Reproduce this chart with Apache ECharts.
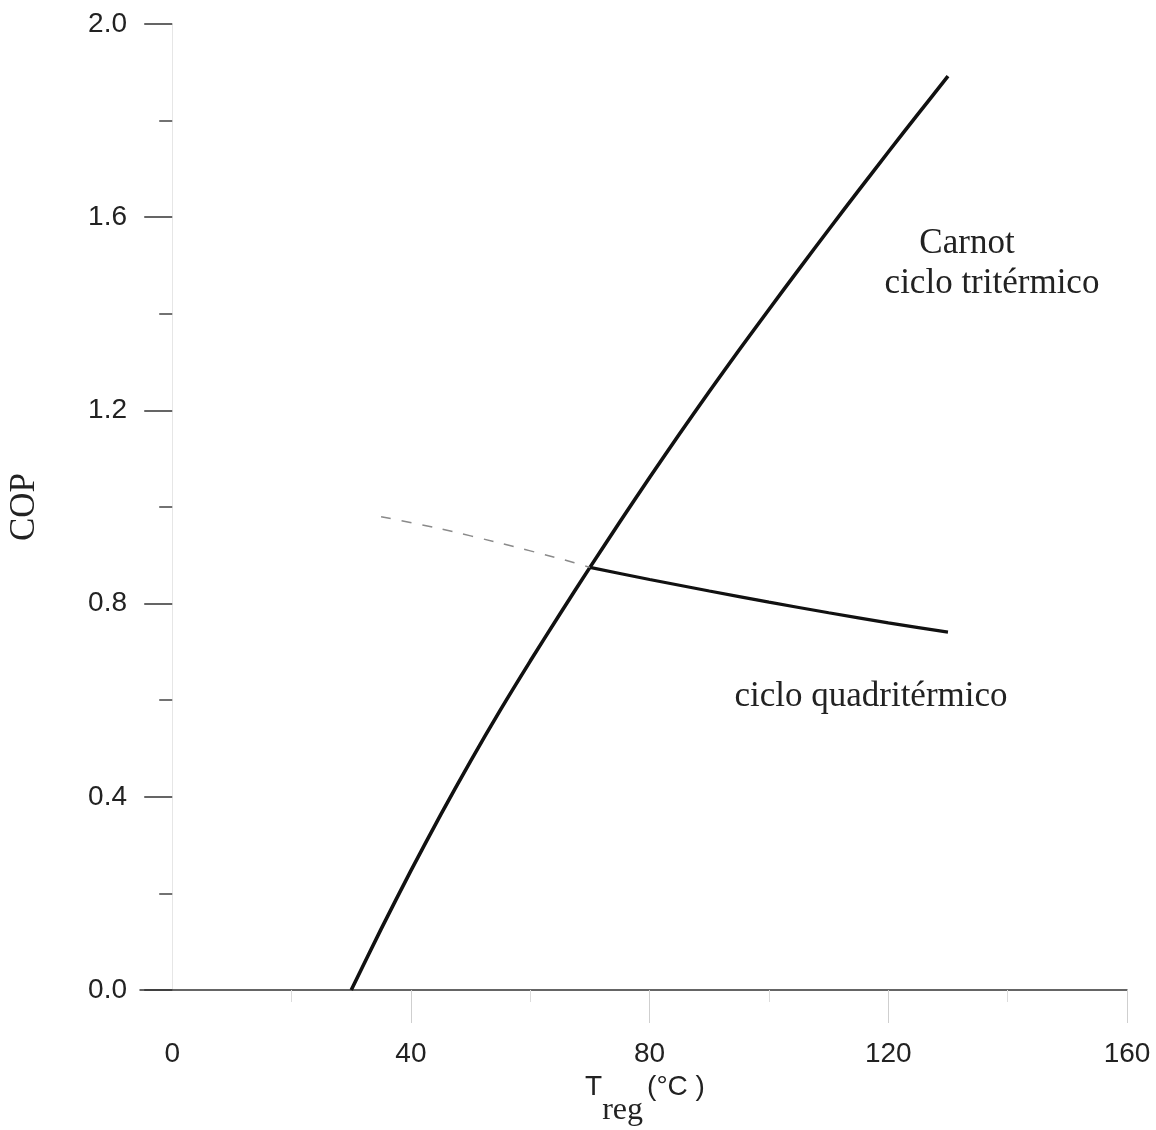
<!DOCTYPE html>
<html>
<head>
<meta charset="utf-8">
<script src="https://cdn.jsdelivr.net/npm/echarts@6/dist/echarts.min.js"></script>
<style>
  html, body { margin: 0; padding: 0; background: #fff; }
  #chart { width: 1156px; height: 1130px; }
</style>
</head>
<body>
<div id="chart"></div>
<script>
// Carnot, ciclo tritérmico
const carnotT = [30, 35, 40, 45, 50, 55, 60, 65, 70, 75, 80, 85, 90, 95, 100, 105, 110, 115, 120, 125, 130]
const carnotCop = [0, 0.126, 0.247, 0.363, 0.474, 0.58, 0.681, 0.779, 0.875, 0.969, 1.061, 1.151, 1.239, 1.325, 1.409, 1.492, 1.574, 1.655, 1.735, 1.814, 1.892]

// ciclo quadritérmico
const quadT = [70, 80, 90, 100, 110, 120, 130]
const quadCop = [0.875, 0.85, 0.826, 0.803, 0.781, 0.76, 0.741]

// dashed continuation below 70 °C
const dashT = [35, 45, 55, 65, 70]
const dashCop = [0.98, 0.955, 0.925, 0.893, 0.875]

const xMajorTicks = [0, 40, 80, 120, 160]
const xTickMarks = [40, 80, 120, 160]
const xMinorTicks = [20, 60, 100, 140]

const sansFont = "'Liberation Sans', Arial, sans-serif"
const serifFont = "'Liberation Serif', 'Times New Roman', serif"

const zip = (xs, ys) => xs.map((x, i) => [x, ys[i]])

const chart = echarts.init(document.getElementById('chart'))

const option = {
  backgroundColor: '#fff',
  animation: false,
  grid: {
    left: 140,
    right: 29,
    top: 24,
    bottom: 140,
    outerBoundsMode: 'none'
  },
  xAxis: [
    {
      type: 'value',
      min: -5.4,
      max: 160,
      position: 'bottom',
      splitLine: { show: false },
      axisLine: { lineStyle: { color: '#333', width: 1.5 } },
      axisTick: {
        show: true,
        customValues: xTickMarks,
        length: 33,
        lineStyle: { color: '#cfcfcf', width: 1 }
      },
      axisLabel: {
        customValues: xMajorTicks,
        margin: 50,
        fontFamily: sansFont,
        fontSize: 28,
        color: '#222'
      },
      name: '{t|T}{s|reg}{u|(°C )}',
      nameLocation: 'middle',
      nameGap: 81,
      nameTextStyle: {
        padding: [0, 0, 0, 23],
        rich: {
          t: { fontFamily: sansFont, fontSize: 28, color: '#222', lineHeight: 32, verticalAlign: 'top' },
          s: { fontFamily: serifFont, fontSize: 32, color: '#222', lineHeight: 54, verticalAlign: 'bottom' },
          u: { fontFamily: sansFont, fontSize: 28, color: '#222', lineHeight: 32, verticalAlign: 'top', padding: [0, 0, 0, 4] }
        }
      }
    },
    {
      type: 'value',
      min: -5.4,
      max: 160,
      position: 'bottom',
      splitLine: { show: false },
      axisLine: { show: false },
      axisLabel: { show: false },
      axisTick: {
        show: true,
        customValues: xMinorTicks,
        length: 12,
        lineStyle: { color: '#dcdcdc', width: 1 }
      }
    }
  ],
  yAxis: {
    type: 'value',
    min: 0,
    max: 2,
    interval: 0.4,
    splitLine: { show: false },
    axisLine: { show: true, lineStyle: { color: '#e6e6e6', width: 1 } },
    axisTick: { show: true, inside: false, length: 28, lineStyle: { color: '#333', width: 1.5 } },
    minorTick: { show: true, splitNumber: 2, length: 13, lineStyle: { color: '#444', width: 1.5 } },
    axisLabel: {
      margin: 13,
      fontFamily: sansFont,
      fontSize: 28,
      color: '#222',
      formatter: (v) => v.toFixed(1)
    },
    name: 'COP',
    nameLocation: 'middle',
    nameRotate: 90,
    nameGap: 98,
    nameTextStyle: { fontFamily: serifFont, fontSize: 35, color: '#222' }
  },
  series: [
    {
      name: 'Carnot',
      type: 'line',
      data: zip(carnotT, carnotCop),
      smooth: 0.3,
      showSymbol: false,
      lineStyle: { color: '#111', width: 3.6 }
    },
    {
      name: 'quadritermico',
      type: 'line',
      data: zip(quadT, quadCop),
      smooth: 0.2,
      showSymbol: false,
      lineStyle: { color: '#111', width: 3.2 }
    },
    {
      name: 'tracejado',
      type: 'line',
      data: zip(dashT, dashCop),
      smooth: 0.2,
      showSymbol: false,
      lineStyle: { color: '#8a8a8a', width: 1.5, type: [10, 11] }
    }
  ],
  graphic: [
    {
      type: 'text',
      x: 967,
      y: 244,
      style: { text: 'Carnot', font: '35px ' + serifFont, fill: '#222', textAlign: 'center', textVerticalAlign: 'middle' }
    },
    {
      type: 'text',
      x: 992,
      y: 284,
      style: { text: 'ciclo tritérmico', font: '35px ' + serifFont, fill: '#222', textAlign: 'center', textVerticalAlign: 'middle' }
    },
    {
      type: 'text',
      x: 871,
      y: 697,
      style: { text: 'ciclo quadritérmico', font: '35px ' + serifFont, fill: '#222', textAlign: 'center', textVerticalAlign: 'middle' }
    }
  ]
}

chart.setOption(option)
window.addEventListener('resize', chart.resize)
</script>
</body>
</html>
